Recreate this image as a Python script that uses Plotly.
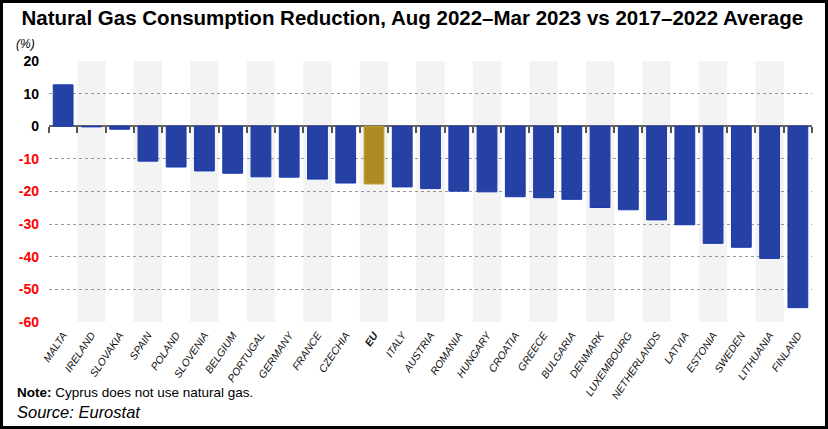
import plotly.graph_objects as go

categories = ["MALTA", "IRELAND", "SLOVAKIA", "SPAIN", "POLAND", "SLOVENIA", "BELGIUM",
              "PORTUGAL", "GERMANY", "FRANCE", "CZECHIA", "EU", "ITALY", "AUSTRIA",
              "ROMANIA", "HUNGARY", "CROATIA", "GREECE", "BULGARIA", "DENMARK",
              "LUXEMBOURG", "NETHERLANDS", "LATVIA", "ESTONIA", "SWEDEN", "LITHUANIA", "FINLAND"]
values = [12.7, -0.2, -0.9, -10.7, -12.5, -13.7, -14.4, -15.5, -15.6, -16.2, -17.4, -17.7,
          -18.6, -19.1, -19.9, -20.1, -21.6, -21.9, -22.4, -24.9, -25.6, -28.7, -30.2,
          -35.9, -37.1, -40.5, -55.6]
highlight = "EU"
y_ticks = [20, 10, 0, -10, -20, -30, -40, -50, -60]

W, H = 828, 429
L, R, T, B = 49, 16, 61, 107
pw, ph = W - L - R, H - T - B

ARIAL = "Liberation Sans, Arial"

fill = ["#ad8b22" if c == highlight else "#2441a3" for c in categories]
edge = ["#c4a236" if c == highlight else "#1b39b0" for c in categories]
ticktext = [f"<b>{c}</b>" if c == highlight else c for c in categories]

fig = go.Figure()
fig.add_trace(go.Bar(
    x=categories, y=values, marker=dict(color=fill, line=dict(color=edge, width=1)),
    width=0.7, hoverinfo="x+y", showlegend=False,
))
# invisible trace to create the zero-line tick axis
fig.add_trace(go.Scatter(
    x=categories, y=[0] * len(categories), xaxis="x2", mode="markers",
    marker=dict(opacity=0), hoverinfo="skip", showlegend=False,
))

shapes = []
for i, c in enumerate(categories):
    if i % 2 == 1:
        shapes.append(dict(type="rect", xref="x", yref="paper", x0=i - 0.5, x1=i + 0.5,
                           y0=0, y1=1, fillcolor="#f3f3f3", line=dict(width=0), layer="below"))
# black frame around the image
shapes.append(dict(type="rect", xref="paper", yref="paper",
                   x0=-(L - 1.5) / pw, x1=1 + (R - 1.5) / pw,
                   y0=-(B - 1.5) / ph, y1=1 + (T - 1.5) / ph,
                   line=dict(color="black", width=3), layer="above"))

yticktext = []
for v in y_ticks:
    if v < 0:
        yticktext.append(f"<span style='color:#ff0000'>{v}</span>")
    else:
        yticktext.append(str(v))

fig.update_layout(
    width=W, height=H,
    margin=dict(l=L, r=R, t=T, b=B, autoexpand=False),
    paper_bgcolor="white", plot_bgcolor="white",
    bargap=0.3,
    title=dict(text="<b>Natural Gas Consumption Reduction, Aug 2022–Mar 2023 vs 2017–2022 Average</b>",
               x=0.498, xref="container", xanchor="center", y=1 - 18 / H, yanchor="middle",
               font=dict(family=ARIAL, size=20.5, color="black")),
    xaxis=dict(type="category", categoryorder="array", categoryarray=categories,
               tickvals=categories, ticktext=ticktext, tickangle=-56, automargin=False,
               tickfont=dict(family=ARIAL, size=10.5, color="#111", style="italic"),
               ticklabelstandoff=4,
               showgrid=False, showline=False, ticks="", range=[-0.5, len(categories) - 0.5]),
    xaxis2=dict(type="category", categoryorder="array", categoryarray=categories,
                overlaying="x", anchor="free", position=(0 - (-60)) / 80, side="bottom",
                matches="x", showticklabels=False, showgrid=False, showline=False,
                ticks="outside", tickson="boundaries", ticklen=6, tickwidth=1.5, tickcolor="#555"),
    yaxis=dict(range=[-60, 20], tickvals=y_ticks, ticktext=yticktext, automargin=False,
               tickfont=dict(family=ARIAL, size=14, color="black", weight="bold"),
               showgrid=True, gridcolor="#999", griddash="dot", gridwidth=1,
               zeroline=True, zerolinecolor="#666", zerolinewidth=2,
               showline=False, ticks="", ticklabelstandoff=9),
    shapes=shapes,
    annotations=[
        dict(text="<i>(%)</i>", xref="paper", yref="paper", x=(14 - L) / pw, y=(ph + T - 44) / ph,
             xanchor="left", yanchor="middle", showarrow=False,
             font=dict(family=ARIAL, size=12, color="black")),
        dict(text="<b>Note:</b> Cyprus does not use natural gas.", xref="paper", yref="paper",
             x=(15 - L) / pw, y=(ph + T - 392) / ph, xanchor="left", yanchor="middle",
             showarrow=False, font=dict(family=ARIAL, size=13.5, color="black")),
        dict(text="<i>Source: Eurostat</i>", xref="paper", yref="paper",
             x=(15 - L) / pw, y=(ph + T - 412) / ph, xanchor="left", yanchor="middle",
             showarrow=False, font=dict(family=ARIAL, size=16.5, color="black")),
    ],
)

fig.write_html("out.html", config={"displayModeBar": False},
               post_script="document.body.style.margin='0';")
